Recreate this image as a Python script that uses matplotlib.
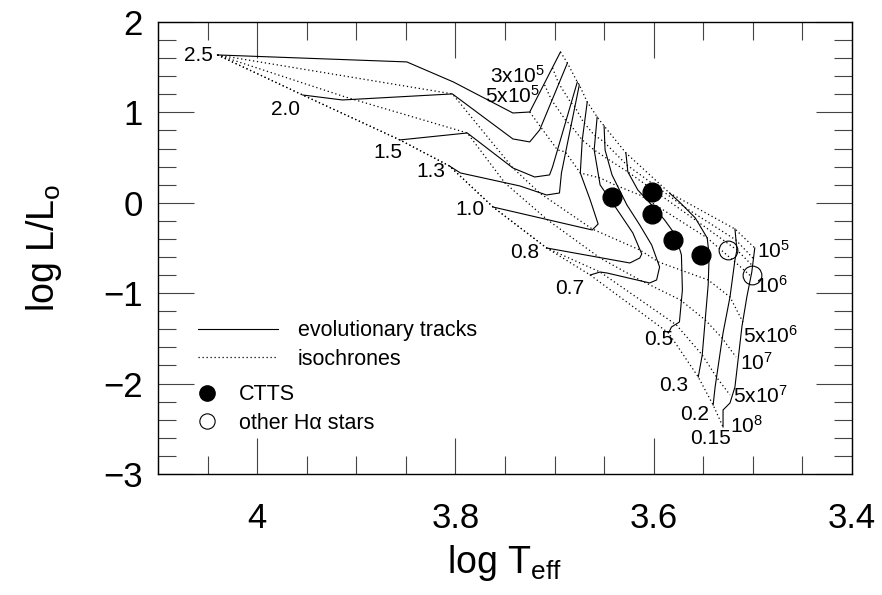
import matplotlib
matplotlib.use("Agg")
import matplotlib.pyplot as plt
from matplotlib.lines import Line2D
from matplotlib.ticker import MultipleLocator

plt.rcParams['font.family'] = ['Liberation Sans', 'DejaVu Sans']
plt.rcParams['mathtext.fontset'] = 'custom'
plt.rcParams['mathtext.rm'] = 'Liberation Sans'
plt.rcParams['mathtext.it'] = 'Liberation Sans:italic'

# ---------------- evolutionary tracks (log Teff, log L) ----------------
track_masses = ["2.5", "2.0", "1.5", "1.3", "1.0", "0.8", "0.7", "0.5", "0.3", "0.2", "0.15"]
trk_25_T = [4.040, 3.849, 3.802, 3.742, 3.725, 3.694]
trk_25_L = [1.635, 1.558, 1.336, 0.993, 1.004, 1.668]
trk_20_T = [3.954, 3.914, 3.803, 3.742, 3.725, 3.715, 3.687]
trk_20_L = [1.192, 1.137, 1.204, 0.706, 0.673, 0.805, 1.546]
trk_15_T = [3.856, 3.788, 3.742, 3.720, 3.705, 3.702, 3.677]
trk_15_L = [0.695, 0.772, 0.385, 0.285, 0.308, 0.396, 1.336]
trk_13_T = [3.806, 3.795, 3.735, 3.708, 3.695, 3.693, 3.675]
trk_13_L = [0.407, 0.330, 0.186, 0.086, 0.108, 0.330, 1.303]
trk_10_T = [3.762, 3.662, 3.656, 3.664, 3.674, 3.672, 3.667]
trk_10_L = [-0.047, -0.301, -0.235, 0.031, 0.330, 0.695, 1.115]
trk_08_T = [3.708, 3.624, 3.614, 3.612, 3.621, 3.640, 3.654, 3.660, 3.657]
trk_08_L = [-0.500, -0.666, -0.611, -0.566, -0.334, -0.024, 0.197, 0.584, 0.949]
trk_07_T = [3.664, 3.654, 3.647, 3.604, 3.597, 3.594, 3.602, 3.614, 3.627, 3.642, 3.649, 3.650]
trk_07_L = [-0.799, -0.766, -0.777, -0.887, -0.854, -0.710, -0.467, -0.246, -0.024, 0.308, 0.584, 0.850]
trk_05_T = [3.585, 3.582, 3.574, 3.571, 3.572, 3.578, 3.589, 3.602, 3.616, 3.626, 3.628]
trk_05_L = [-1.440, -1.374, -1.319, -0.965, -0.577, -0.356, -0.190, -0.024, 0.142, 0.341, 0.551]
trk_03_T = [3.555, 3.551, 3.548, 3.545, 3.544, 3.546, 3.558, 3.574, 3.584]
trk_03_L = [-1.927, -1.684, -1.296, -0.909, -0.577, -0.389, -0.168, 0.009, 0.108]
trk_02_T = [3.540, 3.538, 3.530, 3.523, 3.518, 3.516, 3.518]
trk_02_L = [-2.237, -2.038, -1.440, -1.042, -0.633, -0.522, -0.290]
trk_015_T = [3.530, 3.530, 3.523, 3.518, 3.511, 3.506, 3.501, 3.498]
trk_015_L = [-2.480, -2.292, -2.215, -2.038, -1.374, -1.042, -0.766, -0.500]

tracks_T = [trk_25_T, trk_20_T, trk_15_T, trk_13_T, trk_10_T, trk_08_T,
            trk_07_T, trk_05_T, trk_03_T, trk_02_T, trk_015_T]
tracks_L = [trk_25_L, trk_20_L, trk_15_L, trk_13_L, trk_10_L, trk_08_L,
            trk_07_L, trk_05_L, trk_03_L, trk_02_L, trk_015_L]
mass_label_T = [4.059, 3.971, 3.868, 3.825, 3.785, 3.730, 3.685, 3.595, 3.580, 3.559, 3.543]
mass_label_L = [1.624, 1.027, 0.551, 0.341, -0.080, -0.555, -0.943, -1.507, -2.016, -2.347, -2.613]

# ---------------- isochrones ----------------
iso_1e5_T = [3.694, 3.687, 3.677, 3.675, 3.667, 3.657, 3.650, 3.628, 3.584, 3.518, 3.498]
iso_1e5_L = [1.668, 1.546, 1.336, 1.303, 1.115, 0.949, 0.850, 0.551, 0.108, -0.290, -0.500]
iso_3e5_T = [3.702, 3.696, 3.684, 3.680, 3.671, 3.660, 3.650, 3.627, 3.569, 3.517, 3.499]
iso_3e5_L = [1.491, 1.325, 1.115, 1.071, 0.894, 0.750, 0.673, 0.418, -0.047, -0.412, -0.622]
iso_5e5_T = [3.710, 3.703, 3.689, 3.684, 3.672, 3.660, 3.648, 3.626, 3.558, 3.516, 3.500]
iso_5e5_L = [1.303, 1.137, 0.916, 0.861, 0.695, 0.584, 0.496, 0.341, -0.190, -0.522, -0.699]
iso_1e6_T = [3.725, 3.714, 3.697, 3.689, 3.674, 3.654, 3.639, 3.614, 3.546, 3.518, 3.501]
iso_1e6_L = [1.004, 0.838, 0.584, 0.562, 0.330, 0.274, 0.197, 0.086, -0.389, -0.655, -0.821]
iso_5e6_T = [4.040, 3.803, 3.742, 3.715, 3.662, 3.614, 3.595, 3.573, 3.545, 3.523, 3.510]
iso_5e6_L = [1.635, 1.204, 0.385, 0.108, -0.290, -0.522, -0.655, -0.743, -0.854, -1.042, -1.319]
iso_1e7_T = [4.040, 3.911, 3.788, 3.750, 3.707, 3.654, 3.614, 3.573, 3.548, 3.531, 3.517]
iso_1e7_L = [1.635, 1.170, 0.772, 0.219, -0.190, -0.611, -0.854, -1.075, -1.296, -1.496, -1.706]
iso_5e7_T = [4.040, 3.954, 3.856, 3.806, 3.762, 3.708, 3.654, 3.577, 3.551, 3.536, 3.523]
iso_5e7_L = [1.635, 1.192, 0.695, 0.407, -0.047, -0.500, -0.766, -1.352, -1.684, -1.938, -2.126]
iso_1e8_T = [4.040, 3.954, 3.856, 3.806, 3.762, 3.708, 3.664, 3.585, 3.555, 3.540, 3.530]
iso_1e8_L = [1.635, 1.192, 0.695, 0.407, -0.047, -0.500, -0.799, -1.440, -1.927, -2.237, -2.480]

isos_T = [iso_1e5_T, iso_3e5_T, iso_5e5_T, iso_1e6_T, iso_5e6_T, iso_1e7_T, iso_5e7_T, iso_1e8_T]
isos_L = [iso_1e5_L, iso_3e5_L, iso_5e5_L, iso_1e6_L, iso_5e6_L, iso_1e7_L, iso_5e7_L, iso_1e8_L]
iso_labels = ["3x10$^{5}$", "5x10$^{5}$", "10$^{5}$", "10$^{6}$",
              "5x10$^{6}$", "10$^{7}$", "5x10$^{7}$", "10$^{8}$"]
iso_label_T = [3.765, 3.770, 3.496, 3.498, 3.510, 3.513, 3.520, 3.523]
iso_label_L = [1.325, 1.104, -0.611, -0.998, -1.551, -1.850, -2.215, -2.546]

# ---------------- stars ----------------
ctts_T = [3.642, 3.602, 3.602, 3.580, 3.552]
ctts_L = [0.064, 0.119, -0.124, -0.411, -0.577]
other_T = [3.525, 3.501]
other_L = [-0.522, -0.799]

DOT = (0, (1, 2.2))

fig = plt.figure(figsize=(8.82, 5.95), dpi=100)
ax = fig.add_axes([0.1791, 0.2034, 0.7868, 0.7597])

for T, L in zip(tracks_T, tracks_L):
    ax.plot(T, L, color='black', lw=0.8, solid_joinstyle='miter')
for T, L in zip(isos_T, isos_L):
    ax.plot(T, L, color='black', lw=0.9, linestyle=DOT)

ax.plot(ctts_T, ctts_L, 'o', color='black', markersize=13.5, linestyle='none')
ax.plot(other_T, other_L, 'o', markerfacecolor='none', markeredgecolor='black',
        markeredgewidth=0.8, markersize=13.5, linestyle='none')

for s, t, l in zip(track_masses, mass_label_T, mass_label_L):
    ax.text(t, l, s, fontsize=15, ha='center', va='center')
for s, t, l in zip(iso_labels, iso_label_T, iso_label_L):
    ax.text(t, l, s, fontsize=15, ha='left', va='baseline')

ax.set_xlim(4.1, 3.4)
ax.set_ylim(-3, 2)
ax.xaxis.set_major_locator(MultipleLocator(0.2))
ax.xaxis.set_minor_locator(MultipleLocator(0.05))
ax.yaxis.set_major_locator(MultipleLocator(1))
ax.yaxis.set_minor_locator(MultipleLocator(0.2))
ax.set_xticks([4.0, 3.8, 3.6, 3.4])
ax.set_xticklabels(["4", "3.8", "3.6", "3.4"])
ax.tick_params(which='both', direction='in', top=True, right=True, width=0.8, color='#444444')
ax.tick_params(which='major', length=26)
ax.tick_params(which='minor', length=13)
ax.tick_params(axis='x', labelsize=25, pad=20)
ax.tick_params(axis='y', labelsize=25, pad=11)
for sp in ax.spines.values():
    sp.set_linewidth(1.0)

ax.set_xlabel("log T$_\\mathrm{eff}$", fontsize=27, labelpad=6)
ax.set_ylabel("log L/L$_\\mathrm{o}$", fontsize=27, labelpad=28)

h1 = [Line2D([], [], color='black', lw=0.8),
      Line2D([], [], color='black', lw=0.9, linestyle=DOT)]
leg1 = ax.legend(h1, ["evolutionary tracks", "isochrones"], loc='center left',
                 bbox_to_anchor=(0.0576, 0.2854), frameon=False, fontsize=15.5,
                 handlelength=3.7, handletextpad=0.93, labelspacing=0.33,
                 borderpad=0, borderaxespad=0)
ax.add_artist(leg1)
h2 = [Line2D([], [], marker='o', color='black', linestyle='none', markersize=11),
      Line2D([], [], marker='o', markerfacecolor='none', markeredgecolor='black',
             markeredgewidth=0.8, linestyle='none', markersize=11)]
ax.legend(h2, ["CTTS", "other H\u03b1 stars"], loc='center left',
          bbox_to_anchor=(0.0556, 0.1438), frameon=False, fontsize=15.5,
          handlelength=1.0, handletextpad=0.95, labelspacing=0.33,
          borderpad=0, borderaxespad=0)

fig.savefig("out.png", dpi=100)
